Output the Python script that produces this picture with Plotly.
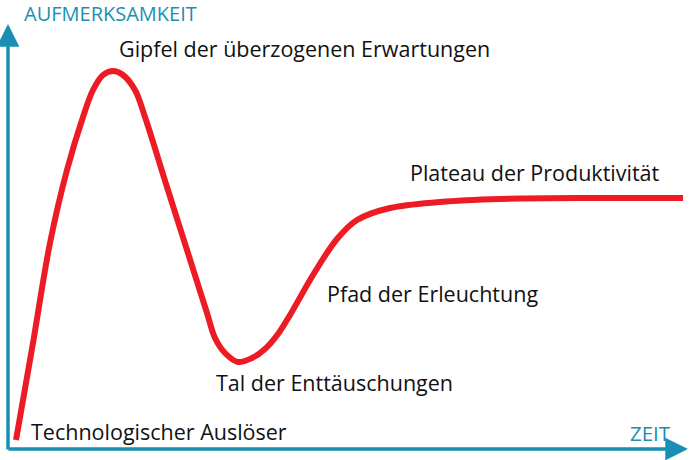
import plotly.graph_objects as go

# Hype-Zyklus: Zeit (x) gegen Aufmerksamkeit (y)
zeit = [8, 25, 42, 59, 75, 85, 95, 105, 115, 127, 137, 159, 179, 199, 207,
        217, 230, 244, 257, 270, 282, 305, 329, 349, 382, 432, 492, 592, 675]
aufmerksamkeit = [9, 106, 206, 279, 332, 359, 374, 378, 374, 359, 332, 262, 199, 136, 111,
                  96, 87, 91, 100, 115, 134, 174, 210, 229, 241, 247, 250, 251, 251]

# Phasen-Beschriftungen (Zeit, Aufmerksamkeit, Text)
phasen_text = ["Technologischer Auslöser", "Gipfel der überzogenen Erwartungen",
               "Tal der Enttäuschungen", "Pfad der Erleuchtung",
               "Plateau der Produktivität"]
phasen_x = [21, 109, 206, 317, 400]
phasen_y = [18, 401, 67, 156, 277]

achse_x_label = "ZEIT"
achse_y_label = "AUFMERKSAMKEIT"

ACHSE = "#1b8fb3"
KURVE = "#ed1c24"
FONT = "Open Sans"

fig = go.Figure()

fig.add_trace(go.Scatter(
    x=zeit, y=aufmerksamkeit,
    mode="lines",
    line=dict(color=KURVE, width=6, shape="spline", smoothing=1.0),
    hoverinfo="skip",
    showlegend=False
))

annotations = []

# Achsen mit Pfeilen
annotations.append(dict(x=680, y=0, ax=-1, ay=0, xref="x", yref="y",
                        axref="x", ayref="y", showarrow=True, arrowhead=2,
                        arrowsize=1.3, arrowwidth=3.5, arrowcolor=ACHSE, text=""))
annotations.append(dict(x=0, y=425, ax=0, ay=-2, xref="x", yref="y",
                        axref="x", ayref="y", showarrow=True, arrowhead=2,
                        arrowsize=1.3, arrowwidth=3.5, arrowcolor=ACHSE, text=""))

# Achsenbeschriftungen
annotations.append(dict(x=665, y=16, xref="x", yref="y", text=achse_x_label,
                        showarrow=False, xanchor="right", yanchor="middle",
                        font=dict(family=FONT, size=20.5, color=ACHSE)))
annotations.append(dict(x=14, y=436, xref="x", yref="y", text=achse_y_label,
                        showarrow=False, xanchor="left", yanchor="middle",
                        font=dict(family=FONT, size=20, color=ACHSE)))

for t, px, py in zip(phasen_text, phasen_x, phasen_y):
    annotations.append(dict(x=px, y=py, xref="x", yref="y", text=t,
                            showarrow=False, xanchor="left", yanchor="middle",
                            font=dict(family=FONT, size=21.5, color="#111111")))

fig.update_layout(
    width=690, height=460,
    margin=dict(l=0, r=0, t=0, b=0),
    paper_bgcolor="white", plot_bgcolor="white",
    xaxis=dict(range=[-8, 682], visible=False, fixedrange=True),
    yaxis=dict(range=[-11, 449], visible=False, fixedrange=True),
    annotations=annotations,
    showlegend=False
)

# Seitenrand des Browsers entfernen, damit die Grafik das Fenster genau füllt
fig.write_html("out.html", config={"displayModeBar": False},
               post_script="document.body.style.margin='0';")
